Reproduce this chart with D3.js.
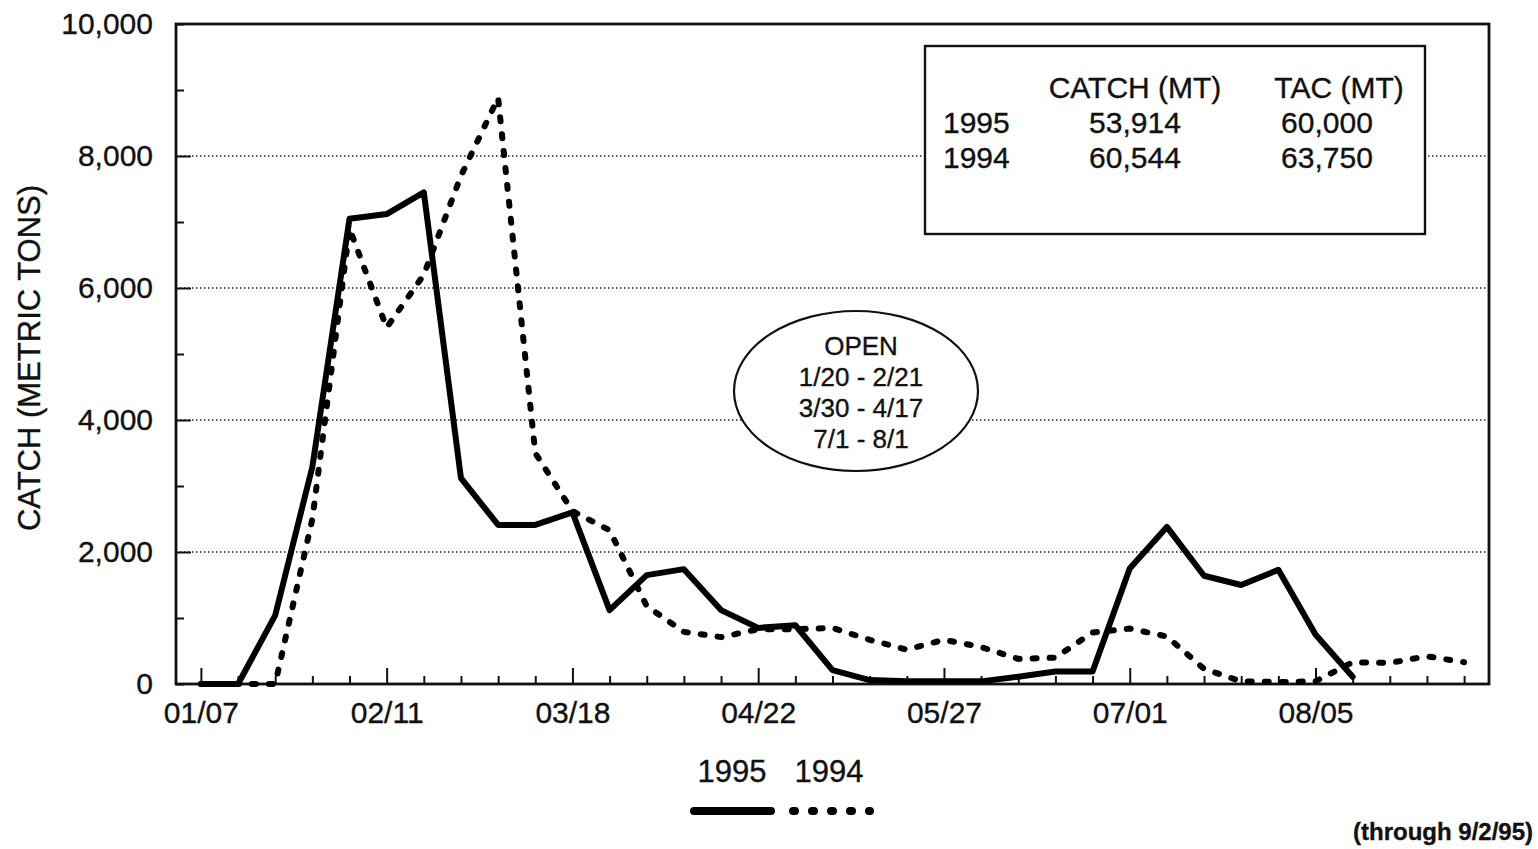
<!DOCTYPE html>
<html>
<head>
<meta charset="utf-8">
<script src="https://cdn.jsdelivr.net/npm/d3@7/dist/d3.min.js"></script>
<style>
  html, body { margin: 0; padding: 0; background: #fff; }
  svg { display: block; }
  text { font-family: "Liberation Sans", Arial, Helvetica, sans-serif; fill: #111; stroke: #111; stroke-width: 0.35px; }
</style>
</head>
<body>
<svg id="chart" width="1538" height="849"></svg>
<script>
// ---- data ----
const weeks = ["01/07","01/14","01/21","01/28","02/04","02/11","02/18","02/25","03/04","03/11",
  "03/18","03/25","04/01","04/08","04/15","04/22","04/29","05/06","05/13","05/20",
  "05/27","06/03","06/10","06/17","06/24","07/01","07/08","07/15","07/22","07/29",
  "08/05","08/12","08/19","08/26","09/02"];
const tickLabels = ["01/07","02/11","03/18","04/22","05/27","07/01","08/05"];
const yTicks = [0,1000,2000,3000,4000,5000,6000,7000,8000,9000,10000];
const yLabelTicks = [0,2000,4000,6000,8000,10000];
const gridTicks = [2000,4000,6000,8000];
const catch1995 = [0,0,1040,3290,7050,7120,7450,3120,2410,2410,2600,1120,1650,1740,1120,850,
  890,210,60,40,40,40,110,190,190,1750,2380,1640,1500,1730,750,110];
const catch1994 = [0,0,0,2500,6900,5400,6200,7700,8880,3500,2620,2330,1180,790,710,830,
  830,850,670,520,670,560,380,400,780,840,720,230,40,30,40,330,320,420,330];
const seriesNames = ["1995","1994"];
const tableHeaders = ["CATCH (MT)","TAC (MT)"];
const tableYears = ["1995","1994"];
const tableCatch = ["53,914","60,544"];
const tableTac = ["60,000","63,750"];
const openLines = ["OPEN","1/20 - 2/21","3/30 - 4/17","7/1 - 8/1"];
const yTitle = "CATCH (METRIC TONS)";
const footnote = "(through 9/2/95)";

// ---- layout ----
const L = 176, R = 1489, T = 24, B = 684;
const svg = d3.select("#chart");

const x = d3.scalePoint().domain(weeks).range([L, R]).padding(0.67);
const y = d3.scaleLinear().domain([0, 10000]).range([B, T]);

// gridlines
svg.append("g").selectAll("line").data(gridTicks).join("line")
  .attr("x1", L).attr("x2", R)
  .attr("y1", d => y(d)).attr("y2", d => y(d))
  .attr("stroke", "#222").attr("stroke-width", 1.3)
  .attr("stroke-dasharray", "1.5,2.5");

// y axis
const yAxis = d3.axisLeft(y).tickValues(yTicks)
  .tickSizeInner(-8).tickSizeOuter(0).tickPadding(23)
  .tickFormat(d => yLabelTicks.includes(d) ? d3.format(",")(d) : "");
const gy = svg.append("g").attr("transform", `translate(${L},0)`).call(yAxis);
gy.select(".domain").remove();
gy.selectAll(".tick line").attr("stroke", "#111").attr("stroke-width", 2)
  .attr("x2", d => (gridTicks.includes(d) ? 15 : 8));
gy.selectAll(".tick text").style("font-size", "30px").attr("fill", "#111");

// x axis
const xAxis = d3.axisBottom(x).tickValues(weeks)
  .tickSizeInner(-8).tickSizeOuter(0).tickPadding(18)
  .tickFormat(d => tickLabels.includes(d) ? d : "");
const gx = svg.append("g").attr("transform", `translate(0,${B})`).call(xAxis);
gx.select(".domain").remove();
gx.selectAll(".tick line").attr("stroke", "#111").attr("stroke-width", 2)
  .attr("y2", d => (tickLabels.includes(d) ? -16 : -8));
gx.selectAll(".tick text").style("font-size", "30px").attr("fill", "#111");

// frame
svg.append("rect").attr("x", L).attr("y", T).attr("width", R - L).attr("height", B - T)
  .attr("fill", "none").attr("stroke", "#111").attr("stroke-width", 2.8);

// table box
const tb = svg.append("g");
tb.append("rect").attr("x", 925).attr("y", 46).attr("width", 500).attr("height", 188)
  .attr("fill", "#fff").attr("stroke", "#111").attr("stroke-width", 2.4);
tb.append("text").attr("x", 1135).attr("y", 98).attr("text-anchor", "middle")
  .style("font-size", "30px").text(tableHeaders[0]);
tb.append("text").attr("x", 1339).attr("y", 98).attr("text-anchor", "middle")
  .style("font-size", "30px").text(tableHeaders[1]);
tableYears.forEach((yr, i) => {
  const by = 133 + i * 35;
  tb.append("text").attr("x", 943).attr("y", by).style("font-size", "30px").text(yr);
  tb.append("text").attr("x", 1135).attr("y", by).attr("text-anchor", "middle")
    .style("font-size", "30px").text(tableCatch[i]);
  tb.append("text").attr("x", 1327).attr("y", by).attr("text-anchor", "middle")
    .style("font-size", "30px").text(tableTac[i]);
});

// open ellipse
const eg = svg.append("g");
eg.append("ellipse").attr("cx", 856).attr("cy", 391).attr("rx", 122).attr("ry", 80)
  .attr("fill", "#fff").attr("stroke", "#111").attr("stroke-width", 2.2);
openLines.forEach((t, i) => {
  eg.append("text").attr("x", 861).attr("y", 355 + i * 31).attr("text-anchor", "middle")
    .style("font-size", "26px").text(t);
});

// lines
const line = d3.line().x((d, i) => x(weeks[i])).y(d => y(d));
svg.append("path").datum(catch1994).attr("d", line)
  .attr("fill", "none").attr("stroke", "#000").attr("stroke-width", 6)
  .attr("stroke-linecap", "round").attr("stroke-linejoin", "round")
  .attr("stroke-dasharray", "4,13");
svg.append("path").datum(catch1995).attr("d", line)
  .attr("fill", "none").attr("stroke", "#000").attr("stroke-width", 6)
  .attr("stroke-linejoin", "round").attr("stroke-linecap", "round");

// y title
svg.append("text").attr("transform", "translate(40,358) rotate(-90)")
  .attr("text-anchor", "middle").style("font-size", "31px").text(yTitle);

// legend
const lg = svg.append("g");
lg.append("text").attr("x", 732).attr("y", 782).attr("text-anchor", "middle")
  .style("font-size", "31px").text(seriesNames[0]);
lg.append("text").attr("x", 829).attr("y", 782).attr("text-anchor", "middle")
  .style("font-size", "31px").text(seriesNames[1]);
lg.append("line").attr("x1", 694).attr("x2", 771).attr("y1", 811).attr("y2", 811)
  .attr("stroke", "#000").attr("stroke-width", 8).attr("stroke-linecap", "round");
lg.append("line").attr("x1", 793).attr("x2", 870).attr("y1", 811).attr("y2", 811)
  .attr("stroke", "#000").attr("stroke-width", 8).attr("stroke-linecap", "round")
  .attr("stroke-dasharray", "2,17");

// footnote
svg.append("text").attr("x", 1533).attr("y", 840).attr("text-anchor", "end")
  .style("font-size", "24px").style("font-weight", "bold").text(footnote);
</script>
</body>
</html>
